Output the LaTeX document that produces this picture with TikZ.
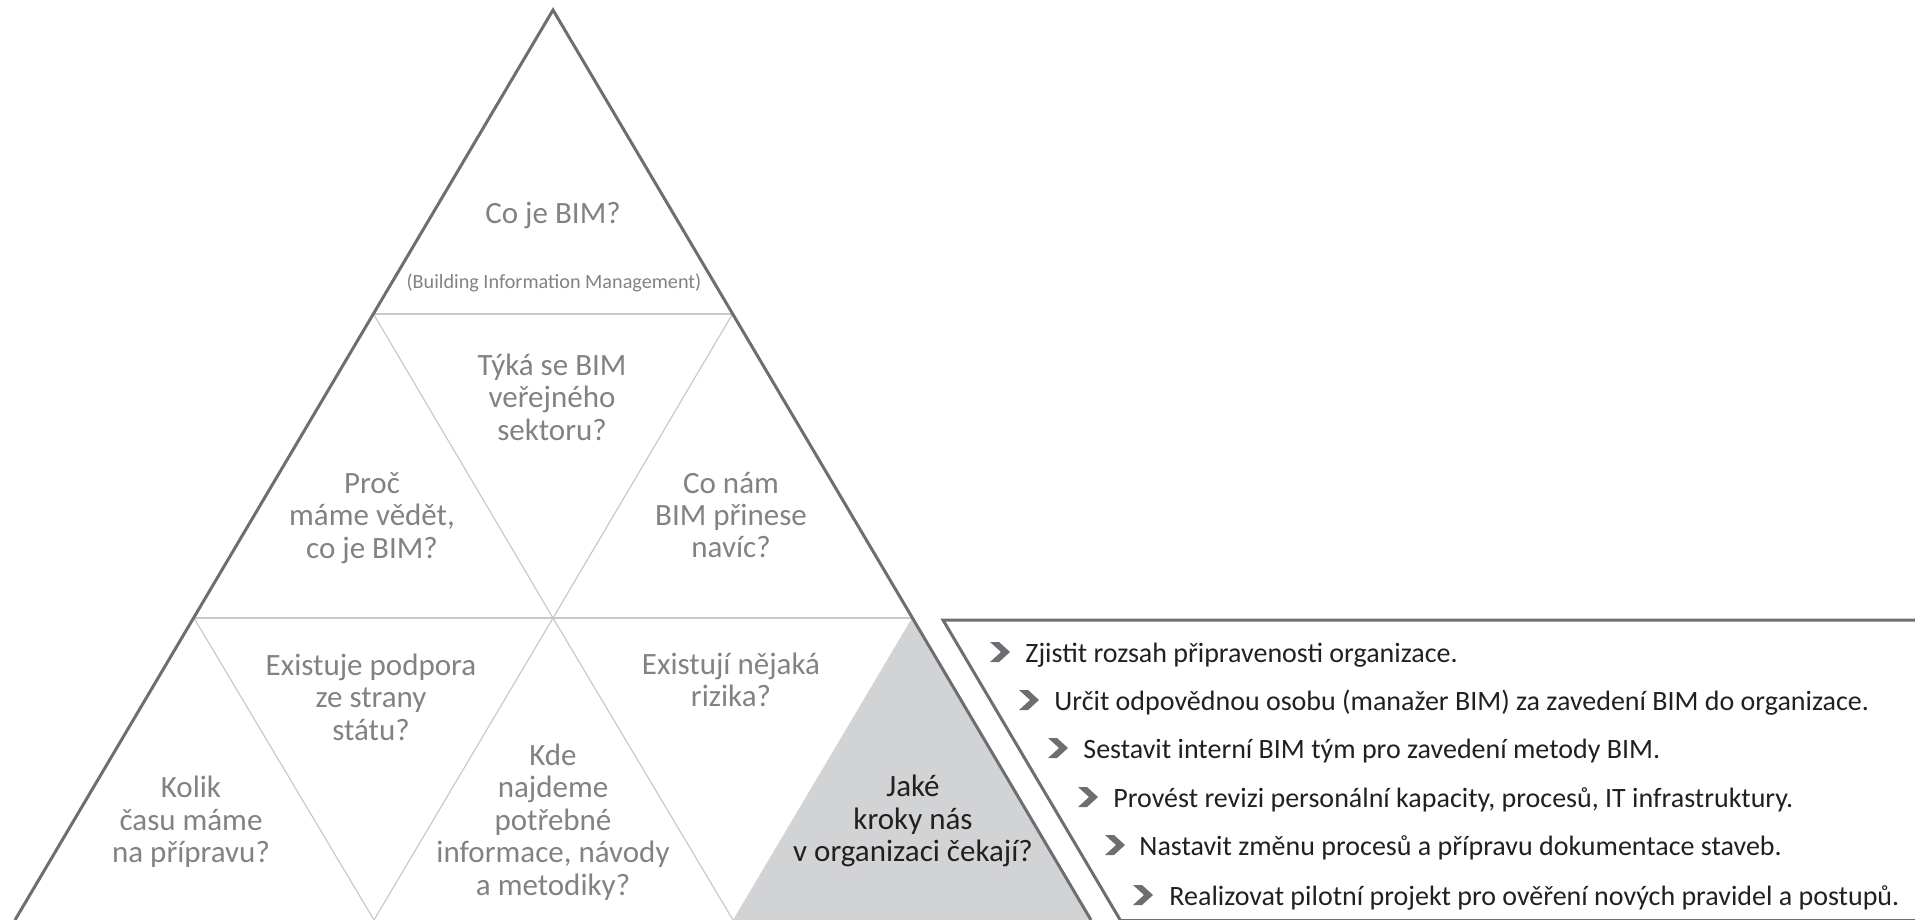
\documentclass[tikz,border=0pt]{standalone}
\usepackage{fontspec}
\setmainfont{Carlito}
\usepackage{xcolor}
\usepackage{tikz}
\definecolor{textgray}{RGB}{128,130,133}
\definecolor{linegray}{RGB}{109,110,113}
\definecolor{thingray}{RGB}{200,201,203}
\definecolor{fillgray}{RGB}{209,211,212}
\definecolor{darktext}{RGB}{35,31,32}
\tikzstyle{question} = [text=textgray, align=center, inner sep=0pt, font=\fontsize{15.5}{16.2}\selectfont]
\tikzstyle{current} = [question, text=darktext]
\tikzstyle{note} = [text=textgray, inner sep=0pt, font=\fontsize{10.1}{11}\selectfont]
\tikzstyle{outline} = [draw=linegray, line width=1.5pt]
\tikzstyle{divider} = [draw=thingray, line width=0.6pt]
\tikzstyle{stepitem} = [text=darktext, anchor=base west, inner sep=0pt, font=\fontsize{14}{16}\selectfont]
\tikzset{chevron/.pic={\fill[linegray] (0,0) -- (9,0) -- (20,10) -- (9,20) -- (0,20) -- (11,10) -- cycle;}}

\begin{document}
\begin{tikzpicture}[x=0.5pt, y=-0.5pt]
    \useasboundingbox (0,0) rectangle (1915,920);
    \coordinate (apex) at (553,10);
    \coordinate (l1) at (373.5,314);
    \coordinate (r1) at (732.5,314);
    \coordinate (l2) at (194,618);
    \coordinate (m2) at (553,618);
    \coordinate (r2) at (912,618);
    \coordinate (l3) at (15,920);
    \coordinate (a3) at (374,920);
    \coordinate (b3) at (733,920);
    \coordinate (r3) at (1091,920);
    \coordinate (boxtl) at (943,620);
    \coordinate (boxtr) at (1925,620);
    \coordinate (boxbl) at (1120.5,920.5);
    \coordinate (boxbr) at (1925,920.5);

    \fill[fillgray] (r2) -- (b3) -- (r3) -- cycle;
    \draw[divider] (l1) -- (r1);
    \draw[divider] (l2) -- (r2);
    \draw[divider] (l1) -- (m2) -- (r1);
    \draw[divider] (l2) -- (a3) -- (m2) -- (b3);
    \draw[outline] (l3) -- (apex) -- (r3);
    \draw[outline] (boxtr) -- (boxtl) -- (boxbl) -- (boxbr);

    \node[question, anchor=base] (whatbim) at (553,223) {Co je BIM?};
    \node[note, anchor=base] (bimfull) at (554,288) {(Building Information Management)};
    \node[question] (public) at (552,397) {Týká se BIM\\veřejného\\sektoru?};
    \node[question] (why) at (372,518) {Proč\\máme vědět,\\co je BIM?};
    \node[question] (benefit) at (731,515) {Co nám\\BIM přinese\\navíc?};
    \node[question] (support) at (371,697) {Existuje podpora\\ze strany\\státu?};
    \node[question] (risks) at (731,680) {Existují nějaká\\rizika?};
    \node[question] (time) at (191,822) {Kolik\\času máme\\na přípravu?};
    \node[question] (sources) at (553,822) {Kde\\najdeme\\potřebné\\informace, návody\\a metodiky?};
    \node[current] (steps) at (913,821) {Jaké\\kroky nás\\v organizaci čekají?};

    \pic at (990,642) {chevron};
    \node[stepitem] (step1) at (1025,662) {Zjistit rozsah připravenosti organizace.};
    \pic at (1019,690) {chevron};
    \node[stepitem] (step2) at (1054,710) {Určit odpovědnou osobu (manažer BIM) za zavedení BIM do organizace.};
    \pic at (1048,738) {chevron};
    \node[stepitem] (step3) at (1083,758) {Sestavit interní BIM tým pro zavedení metody BIM.};
    \pic at (1078,787) {chevron};
    \node[stepitem] (step4) at (1113,807) {Provést revizi personální kapacity, procesů, IT infrastruktury.};
    \pic at (1105,835) {chevron};
    \node[stepitem] (step5) at (1139,855) {Nastavit změnu procesů a přípravu dokumentace staveb.};
    \pic at (1133,885) {chevron};
    \node[stepitem] (step6) at (1169,905) {Realizovat pilotní projekt pro ověření nových pravidel a postupů.};
\end{tikzpicture}
\end{document}
